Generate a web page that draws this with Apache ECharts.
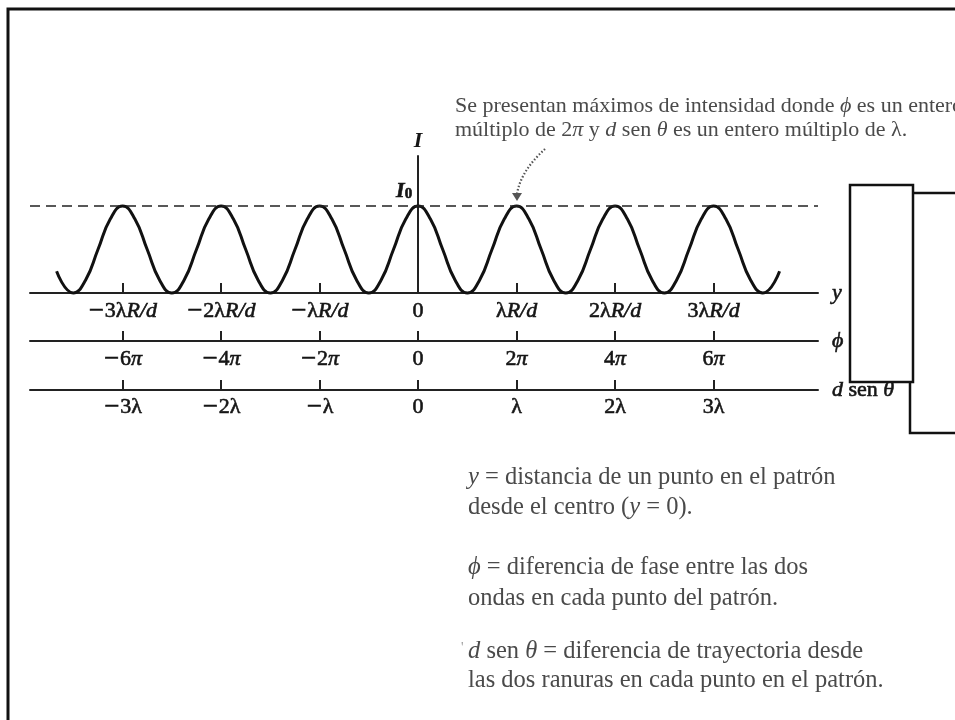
<!DOCTYPE html>
<html>
<head>
<meta charset="utf-8">
<script src="https://cdn.jsdelivr.net/npm/echarts@6/dist/echarts.min.js"></script>
<style>
  html, body { margin: 0; padding: 0; background: #fff; }
  #main { width: 955px; height: 720px; }
</style>
</head>
<body>
<div id="main"></div>
<script>
// Positions along the screen, in units of λR/d, and the intensity read at each one (I / I0).
const positions = [
  -3.67, -3.5, -3.375, -3.25, -3.125,
  -3, -2.875, -2.75, -2.625, -2.5, -2.375, -2.25, -2.125,
  -2, -1.875, -1.75, -1.625, -1.5, -1.375, -1.25, -1.125,
  -1, -0.875, -0.75, -0.625, -0.5, -0.375, -0.25, -0.125,
  0, 0.125, 0.25, 0.375, 0.5, 0.625, 0.75, 0.875,
  1, 1.125, 1.25, 1.375, 1.5, 1.625, 1.75, 1.875,
  2, 2.125, 2.25, 2.375, 2.5, 2.625, 2.75, 2.875,
  3, 3.125, 3.25, 3.375, 3.5, 3.67
];
const intensity = [
  0.25, 0, 0.15, 0.5, 0.85,
  1, 0.85, 0.5, 0.15, 0, 0.15, 0.5, 0.85,
  1, 0.85, 0.5, 0.15, 0, 0.15, 0.5, 0.85,
  1, 0.85, 0.5, 0.15, 0, 0.15, 0.5, 0.85,
  1, 0.85, 0.5, 0.15, 0, 0.15, 0.5, 0.85,
  1, 0.85, 0.5, 0.15, 0, 0.15, 0.5, 0.85,
  1, 0.85, 0.5, 0.15, 0, 0.15, 0.5, 0.85,
  1, 0.85, 0.5, 0.15, 0, 0.25
];

// Tick positions (orders of the maxima) and their labels on the three scales.
const orders = [-3, -2, -1, 0, 1, 2, 3];
const yLabels = ['−3λR/d', '−2λR/d', '−λR/d', '0', 'λR/d', '2λR/d', '3λR/d'];
const phiLabels = ['−6π', '−4π', '−2π', '0', '2π', '4π', '6π'];
const pathLabels = ['−3λ', '−2λ', '−λ', '0', 'λ', '2λ', '3λ'];
const peakLevel = 1;

const SERIF = '"Liberation Serif", "DejaVu Serif", serif';
const INK = '#151515';
const GREY = '#4a4a4a';
const LABEL_SIZE = 22;

const xRange = { min: -3.94, max: 4.06 };

// Minus sign drawn long, R/d and π set in italics, the rest upright.
function labelFor(list) {
  return function (v) {
    const i = orders.indexOf(Math.round(v));
    let s = list[i];
    let head = '';
    let tail = '';
    if (s.charAt(0) === '−') { head = '{m|−}'; s = s.slice(1); }
    if (s.indexOf('R/d') >= 0) { s = s.replace('R/d', ''); tail = 'R/d'; }
    else if (s.indexOf('π') >= 0) { s = s.replace('π', ''); tail = 'π'; }
    return head + (s ? '{n|' + s + '}' : '') + (tail ? '{it|' + tail + '}' : '');
  };
}

const heavy = { textBorderColor: INK, textBorderWidth: 0.6 };
const labelRich = {
  m: Object.assign({ fontFamily: '"DejaVu Serif", serif', fontSize: 20, color: INK }, heavy),
  n: Object.assign({ fontFamily: SERIF, fontSize: LABEL_SIZE, color: INK }, heavy),
  it: Object.assign({ fontFamily: SERIF, fontSize: LABEL_SIZE, fontStyle: 'italic', color: INK }, heavy)
};

const nameRich = {
  it: Object.assign({ fontFamily: SERIF, fontSize: LABEL_SIZE, fontStyle: 'italic', color: INK }, heavy),
  r: Object.assign({ fontFamily: SERIF, fontSize: LABEL_SIZE, color: INK }, heavy)
};

function scaleAxis(gridIndex, list, nameText, margin) {
  return {
    type: 'value',
    gridIndex: gridIndex,
    min: xRange.min,
    max: xRange.max,
    position: 'bottom',
    splitLine: { show: false },
    axisLine: { show: true, onZero: false, lineStyle: { color: '#222', width: 2 } },
    axisTick: { show: true, inside: true, length: 10, customValues: orders, lineStyle: { color: '#222', width: 2 } },
    axisLabel: { show: true, customValues: orders, margin: margin, formatter: labelFor(list), rich: labelRich },
    name: nameText,
    nameLocation: 'end',
    nameGap: 14,
    nameTextStyle: { rich: nameRich, fontFamily: SERIF, fontSize: LABEL_SIZE, color: INK, verticalAlign: 'middle' }
  };
}

const curve = positions.map((p, i) => [p, intensity[i]]);

const chart = echarts.init(document.getElementById('main'), null, { renderer: 'canvas' });

const textRich = (size) => ({ it: { fontStyle: 'italic', fontFamily: SERIF, fontSize: size, fill: GREY } });
const NOTE = 22;
const BODY = 24.5;

chart.setOption({
  backgroundColor: '#ffffff',
  animation: false,
  grid: [
    { left: 30, right: 137, top: 156, height: 137 },
    { left: 30, right: 137, top: 331, height: 10 },
    { left: 30, right: 137, top: 380, height: 10 }
  ],
  xAxis: [
    scaleAxis(0, yLabels, '{it|y}', 7),
    scaleAxis(1, phiLabels, '{it|ϕ}', 7),
    scaleAxis(2, pathLabels, '{it|d} {r|sen} {it|θ}', 6)
  ],
  yAxis: [
    {
      type: 'value', gridIndex: 0, min: 0, max: 1.575,
      splitLine: { show: false },
      axisLine: { show: true, onZero: true, lineStyle: { color: '#222', width: 2 } },
      axisTick: { show: false },
      axisLabel: { show: false },
      name: 'I', nameLocation: 'end', nameGap: 4,
      nameTextStyle: { fontFamily: SERIF, fontSize: LABEL_SIZE, fontStyle: 'italic', fontWeight: 'bold', color: INK, align: 'center' }
    },
    { type: 'value', gridIndex: 1, min: 0, max: 1, show: false },
    { type: 'value', gridIndex: 2, min: 0, max: 1, show: false }
  ],
  series: [
    {
      type: 'line',
      xAxisIndex: 0, yAxisIndex: 0,
      data: curve,
      smooth: true,
      showSymbol: false,
      clip: false,
      lineStyle: { color: '#111', width: 3 },
      markLine: {
        silent: true,
        symbol: 'none',
        label: { show: false },
        lineStyle: { color: '#222', width: 1.5, type: [10, 6] },
        data: [{ yAxis: peakLevel }]
      },
      markPoint: {
        silent: true,
        symbol: 'circle',
        symbolSize: 0,
        data: [{ coord: [0, peakLevel] }],
        label: {
          show: true,
          position: [-22, -26],
          align: 'left',
          verticalAlign: 'top',
          formatter: '{i|I}{s|0}',
          rich: {
            i: Object.assign({ fontFamily: SERIF, fontSize: LABEL_SIZE, fontStyle: 'italic', fontWeight: 'bold', color: INK }, heavy),
            s: Object.assign({ fontFamily: SERIF, fontSize: 15, fontWeight: 'bold', color: INK, verticalAlign: 'bottom' }, heavy)
          }
        }
      }
    }
  ],
  graphic: [
    // page frame
    { type: 'polyline', shape: { points: [[8, 720], [8, 9], [955, 9]] }, style: { stroke: '#111', lineWidth: 3, fill: 'none' } },
    // right-hand boxes
    { type: 'rect', z: 10, shape: { x: 850, y: 185, width: 63, height: 197 }, style: { fill: '#fff', stroke: '#111', lineWidth: 2.5 } },
    { type: 'line', shape: { x1: 913, y1: 193, x2: 955, y2: 193 }, style: { stroke: '#111', lineWidth: 2.5 } },
    { type: 'polyline', shape: { points: [[910, 382], [910, 433], [955, 433]] }, style: { stroke: '#111', lineWidth: 2.5, fill: 'none' } },
    // note at the top
    {
      type: 'text', x: 455, y: 106,
      style: {
        text: 'Se presentan máximos de intensidad donde {it|ϕ} es un entero',
        fontFamily: SERIF, fontSize: NOTE, fill: GREY, verticalAlign: 'middle', rich: textRich(NOTE)
      }
    },
    {
      type: 'text', x: 455, y: 130,
      style: {
        text: 'múltiplo de 2{it|π} y {it|d} sen {it|θ} es un entero múltiplo de λ.',
        fontFamily: SERIF, fontSize: NOTE, fill: GREY, verticalAlign: 'middle', rich: textRich(NOTE)
      }
    },
    // dotted pointer to the first-order maximum
    {
      type: 'bezierCurve',
      shape: { x1: 545, y1: 149, cpx1: 533, cpy1: 160, cpx2: 520, cpy2: 175, x2: 517, y2: 194 },
      style: { stroke: '#555', lineWidth: 2.2, lineDash: [1.5, 2], fill: 'none' }
    },
    { type: 'polygon', shape: { points: [[512, 193], [522, 193], [517, 201]] }, style: { fill: '#555' } },
    // legend of symbols
    { type: 'text', x: 468, y: 478, style: { text: '{it|y} = distancia de un punto en el patrón', fontFamily: SERIF, fontSize: BODY, fill: GREY, verticalAlign: 'middle', rich: textRich(BODY) } },
    { type: 'text', x: 468, y: 508, style: { text: 'desde el centro ({it|y} = 0).', fontFamily: SERIF, fontSize: BODY, fill: GREY, verticalAlign: 'middle', rich: textRich(BODY) } },
    { type: 'text', x: 468, y: 568, style: { text: '{it|ϕ} = diferencia de fase entre las dos', fontFamily: SERIF, fontSize: BODY, fill: GREY, verticalAlign: 'middle', rich: textRich(BODY) } },
    { type: 'text', x: 468, y: 599, style: { text: 'ondas en cada punto del patrón.', fontFamily: SERIF, fontSize: BODY, fill: GREY, verticalAlign: 'middle' } },
    { type: 'text', x: 461, y: 648, style: { text: '\'', fontFamily: SERIF, fontSize: 14, fill: '#999', verticalAlign: 'middle' } },
    { type: 'text', x: 468, y: 652, style: { text: '{it|d} sen {it|θ} = diferencia de trayectoria desde', fontFamily: SERIF, fontSize: BODY, fill: GREY, verticalAlign: 'middle', rich: textRich(BODY) } },
    { type: 'text', x: 468, y: 681, style: { text: 'las dos ranuras en cada punto en el patrón.', fontFamily: SERIF, fontSize: BODY, fill: GREY, verticalAlign: 'middle' } }
  ]
});
</script>
</body>
</html>
